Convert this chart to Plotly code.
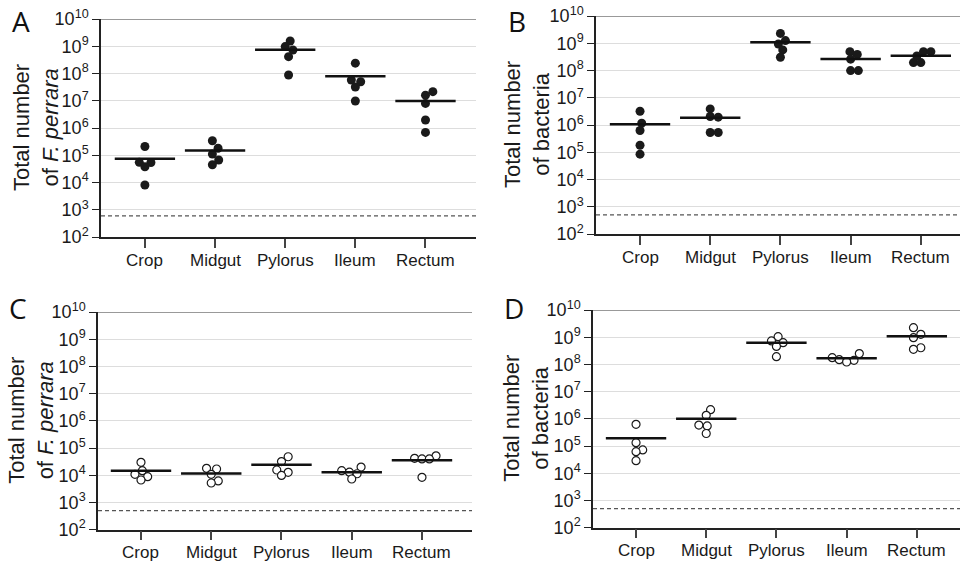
import plotly.graph_objects as go

categories = ["Crop", "Midgut", "Pylorus", "Ileum", "Rectum"]

# Panel A: F. perrara (mono-colonised, filled)
a_values = [
    [2.1e5, 5.5e4, 5.4e4, 3.8e4, 8.1e3],
    [3.4e5, 1.8e5, 1.1e5, 6.7e4, 4.5e4],
    [1.56e9, 9.7e8, 7.3e8, 4.15e8, 8.8e7],
    [2.4e8, 5.8e7, 5.0e7, 3.2e7, 9.8e6],
    [2.15e7, 1.6e7, 8.0e6, 1.97e6, 6.9e5],
]
a_medians = [7.5e4, 1.5e5, 7.5e8, 7.9e7, 9.8e6]
a_limit = 600

# Panel B: total bacteria (filled)
b_values = [
    [3.2e6, 1.17e6, 6.3e5, 1.8e5, 8.5e4],
    [3.9e6, 2.05e6, 1.94e6, 5.3e5, 5.3e5],
    [2.3e9, 1.25e9, 9.4e8, 5.7e8, 3.05e8],
    [4.9e8, 3.9e8, 2.6e8, 9.9e7, 9.9e7],
    [4.9e8, 4.9e8, 3.4e8, 1.95e8, 1.95e8],
]
b_medians = [1.07e6, 1.83e6, 1.08e9, 2.65e8, 3.5e8]
b_limit = 500

# Panel C: F. perrara (open)
c_values = [
    [3.0e4, 1.47e4, 1.08e4, 8.9e3, 6.7e3],
    [1.8e4, 1.7e4, 1.08e4, 6.2e3, 5.2e3],
    [4.8e4, 3.2e4, 1.56e4, 1.28e4, 9.9e3],
    [2.0e4, 1.47e4, 1.3e4, 1.14e4, 7.3e3],
    [5.2e4, 4.2e4, 4.0e4, 4.0e4, 8.4e3],
]
c_medians = [1.47e4, 1.17e4, 2.45e4, 1.3e4, 3.6e4]
c_limit = 500

# Panel D: total bacteria (open)
d_values = [
    [6.3e5, 1.33e5, 7.2e4, 6.2e4, 2.9e4],
    [2.17e6, 1.35e6, 5.9e5, 5.5e5, 2.9e5],
    [1.05e9, 7.3e8, 6.3e8, 4.6e8, 1.93e8],
    [2.5e8, 1.77e8, 1.5e8, 1.41e8, 1.23e8],
    [2.24e9, 1.28e9, 9.6e8, 4.1e8, 3.6e8],
]
d_medians = [1.92e5, 1.01e6, 6.3e8, 1.67e8, 1.08e9]
d_limit = 500

# horizontal spread of the points within each category (category units)
a_spread = [[0, -0.08, 0.086, 0, 0], [-0.038, 0.043, -0.038, 0.052, -0.038],
            [0.071, 0, 0.11, 0.048, 0.048], [0, -0.057, 0.076, 0, 0], [0.105, 0, 0, 0, 0]]
b_spread = [[0, 0.024, 0, 0, 0], [0, 0, 0.114, 0, 0.114], [0, 0.071, -0.029, 0.033, 0],
            [-0.01, 0.095, 0, 0, 0.11], [0.038, 0.143, -0.057, -0.105, 0]]
c_spread = [[0, 0.019, -0.086, 0.095, 0], [-0.067, 0.076, 0, 0.1, 0], [0.095, 0, -0.067, 0.095, 0],
            [0.133, -0.143, -0.033, 0.076, 0], [0.2, -0.105, 0, 0.105, 0]]
d_spread = [[0, 0, 0.095, 0, 0], [0.062, 0, -0.105, 0.014, 0], [0.024, -0.071, 0.095, 0, 0],
            [0.181, -0.205, -0.105, 0.105, 0], [-0.048, 0.057, -0.048, 0.057, -0.048]]

exponents = list(range(2, 11))
tick_vals = [10 ** e for e in exponents]
tick_text = ["10<sup>%d</sup>" % e for e in exponents]

W, H = 960, 562
panels = [
    dict(letter="A", vals=a_values, med=a_medians, lim=a_limit, spread=a_spread, filled=True,
         title="Total number<br>of <i>F. perrara</i>",
         px=(101, 476), py=(19, 237), xr=(-0.626, 4.72), tx=36, lx=21, ly=21),
    dict(letter="B", vals=b_values, med=b_medians, lim=b_limit, spread=b_spread, filled=True,
         title="Total number<br>of bacteria",
         px=(596, 960), py=(16, 234), xr=(-0.627, 4.558), tx=527, lx=517, ly=21),
    dict(letter="C", vals=c_values, med=c_medians, lim=c_limit, spread=c_spread, filled=False,
         title="Total number<br>of <i>F. perrara</i>",
         px=(98, 472), py=(312, 529.7), xr=(-0.612, 4.712), tx=31, lx=18, ly=308),
    dict(letter="D", vals=d_values, med=d_medians, lim=d_limit, spread=d_spread, filled=False,
         title="Total number<br>of bacteria",
         px=(593, 960), py=(310, 527.7), xr=(-0.613, 4.615), tx=526, lx=514, ly=308),
]

FONT = "Liberation Sans, Arial, sans-serif"
fig = go.Figure()
annotations = []
shapes = []
layout = {}

for i, p in enumerate(panels):
    n = "" if i == 0 else str(i + 1)
    xa, ya = "x" + n, "y" + n
    xs, ys = [], []
    for ci, (vals, sp) in enumerate(zip(p["vals"], p["spread"])):
        for v, s in zip(vals, sp):
            xs.append(ci + s)
            ys.append(v)
    if p["filled"]:
        marker = dict(size=9, color="#1a1a1a", line=dict(width=0))
    else:
        marker = dict(size=8, color="white", line=dict(width=1.2, color="#1a1a1a"))
    fig.add_trace(go.Scatter(x=xs, y=ys, mode="markers", marker=marker,
                             xaxis=xa, yaxis=ya, showlegend=False, hoverinfo="y"))
    mx, my = [], []
    for ci, m in enumerate(p["med"]):
        mx += [ci - 0.43, ci + 0.43, None]
        my += [m, m, None]
    fig.add_trace(go.Scatter(x=mx, y=my, mode="lines", line=dict(color="#111111", width=2.5),
                             xaxis=xa, yaxis=ya, showlegend=False, hoverinfo="skip"))
    dx = [p["px"][0] / W, p["px"][1] / W]
    dy = [1 - p["py"][1] / H, 1 - p["py"][0] / H]
    layout["xaxis" + n] = dict(
        domain=dx, range=list(p["xr"]), anchor=ya, automargin=False,
        tickmode="array", tickvals=list(range(len(categories))), showticklabels=False,
        ticks="outside", ticklen=9, tickwidth=1.5, tickcolor="#444444",
        showline=True, linecolor="#222222", linewidth=1.5,
        showgrid=False, zeroline=False, fixedrange=True,
    )
    layout["yaxis" + n] = dict(
        domain=dy, type="log", range=[2, 10], anchor=xa, automargin=False,
        tickmode="array", tickvals=tick_vals, ticktext=tick_text,
        ticks="outside", ticklen=7, tickwidth=1.2, tickcolor="#222222",
        showline=True, linecolor="#222222", linewidth=1.5,
        showgrid=True, gridcolor="#dddddd", gridwidth=1.2, zeroline=False, fixedrange=True,
        tickfont=dict(family=FONT, size=18, color="#1a1a1a"),
    )
    shapes.append(dict(type="line", xref=xa + " domain", yref=ya, x0=0, x1=1,
                       y0=1e10, y1=1e10, line=dict(color="#999999", width=2)))
    shapes.append(dict(type="line", xref=xa + " domain", yref=ya, x0=0, x1=1,
                       y0=p["lim"], y1=p["lim"], line=dict(color="#555555", width=1.2, dash="4px,3px")))
    for ci, cat in enumerate(categories):
        annotations.append(dict(text=cat, xref=xa, yref="paper", x=ci,
                                y=1 - (p["py"][1] + 23) / H, showarrow=False,
                                xanchor="center", yanchor="middle",
                                font=dict(family=FONT, size=17, color="#1a1a1a")))
    annotations.append(dict(text=p["title"], xref="paper", yref="paper",
                            x=p["tx"] / W, y=(dy[0] + dy[1]) / 2, textangle=-90,
                            showarrow=False, xanchor="center", yanchor="middle",
                            font=dict(family=FONT, size=22, color="#1a1a1a")))
    annotations.append(dict(text=p["letter"], xref="paper", yref="paper",
                            x=p["lx"] / W, y=1 - p["ly"] / H, showarrow=False,
                            xanchor="center", yanchor="middle",
                            font=dict(family="Open Sans, sans-serif", size=28, color="#111111")))

fig.update_layout(
    template="none",
    width=W, height=H, margin=dict(l=0, r=0, t=0, b=0, autoexpand=False),
    paper_bgcolor="white", plot_bgcolor="white",
    annotations=annotations, shapes=shapes, showlegend=False,
    **layout,
)
fig.write_html("out.html", config={"displayModeBar": False},
               post_script="document.body.style.margin='0';document.body.style.overflow='hidden';")
